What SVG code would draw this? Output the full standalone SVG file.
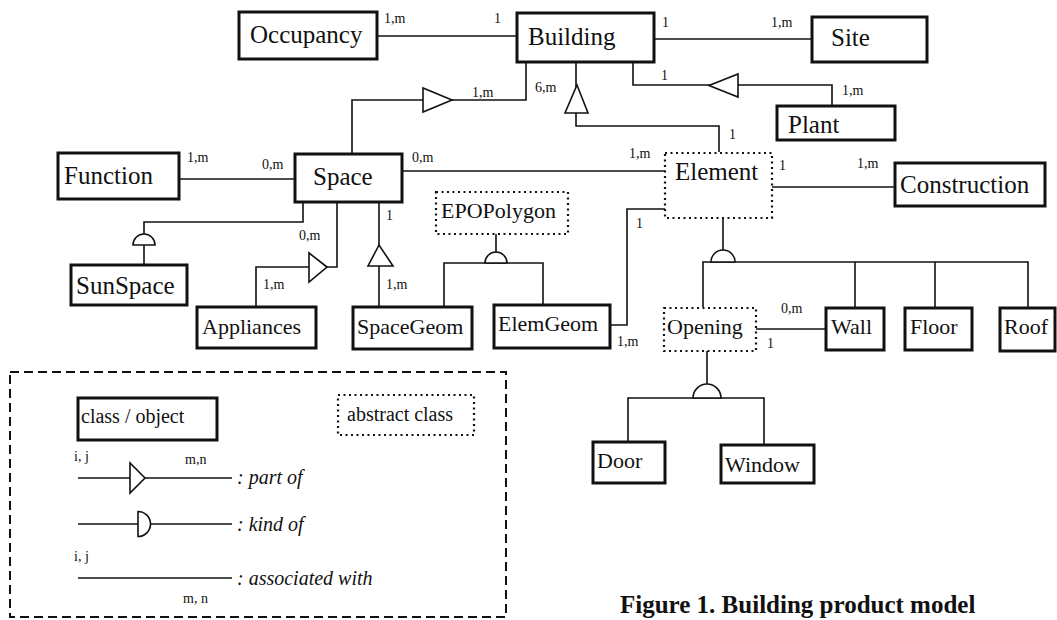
<svg xmlns="http://www.w3.org/2000/svg" width="1057" height="620" viewBox="0 0 1057 620">
<style>
.box{fill:#fff;stroke:#111;stroke-width:3}
.abs{fill:#fff;stroke:#111;stroke-width:2.2;stroke-dasharray:2 3.5}
.ln{fill:none;stroke:#111;stroke-width:1.6}
.sym{fill:#fff;stroke:#111;stroke-width:1.6}
.t{font-family:'Liberation Serif','Times New Roman',serif;font-size:25px;fill:#111}
.s{font-family:'Liberation Serif','Times New Roman',serif;font-size:22px;fill:#111}
.m{font-family:'Liberation Serif','Times New Roman',serif;font-size:14px;fill:#111}
.lg{font-family:'Liberation Serif','Times New Roman',serif;font-size:20px;fill:#111}
.it{font-family:'Liberation Serif','Times New Roman',serif;font-size:20px;font-style:italic;fill:#111}
.cap{font-family:'Liberation Serif','Times New Roman',serif;font-size:25px;font-weight:bold;fill:#111}
</style>
<rect width="1057" height="620" fill="#fff"/>
<g id="connectors">
<!-- Occupancy - Building -->
<line class="ln" x1="377" y1="36" x2="517" y2="36"/>
<!-- Building - Site -->
<line class="ln" x1="654" y1="39" x2="812" y2="39"/>
<!-- Building - Plant -->
<polyline class="ln" points="633,62 633,85 832,85 832,106"/>
<polygon class="sym" points="709,85.5 738,74 738,97"/>
<!-- Building - Space -->
<polyline class="ln" points="526,62 526,100 352,100 352,154"/>
<polygon class="sym" points="452,100 423,88 423,112"/>
<!-- Building - Element -->
<polyline class="ln" points="576,62 576,126 719,126 719,152"/>
<polygon class="sym" points="577,85 565,113 588,113"/>
<!-- Function - Space -->
<line class="ln" x1="179" y1="179" x2="295" y2="179"/>
<!-- Space - Element -->
<line class="ln" x1="402" y1="171" x2="665" y2="171"/>
<!-- Space - SunSpace -->
<polyline class="ln" points="303,202 303,222 144,222 144,234"/>
<line class="ln" x1="144" y1="245" x2="144" y2="265"/>
<path class="sym" d="M133,245 A11,11 0 0 1 155,245 Z"/>
<!-- Space - Appliances -->
<polyline class="ln" points="337,202 337,267 327,267"/>
<polyline class="ln" points="309,267 256,267 256,307"/>
<polygon class="sym" points="327,267 309,253 309,282"/>
<!-- Space - SpaceGeom -->
<line class="ln" x1="379" y1="202" x2="379" y2="307"/>
<polygon class="sym" points="379,245 368,266 393,266"/>
<!-- EPOPolygon - SpaceGeom / ElemGeom -->
<line class="ln" x1="496" y1="234" x2="496" y2="252"/>
<polyline class="ln" points="444,307 444,263 543,263 543,305"/>
<path class="sym" d="M485,263 A11,11 0 0 1 507,263 Z"/>
<!-- ElemGeom - Element -->
<polyline class="ln" points="610,325 627,325 627,209 665,209"/>
<!-- Element - Construction -->
<line class="ln" x1="772" y1="187" x2="895" y2="187"/>
<!-- Element - Opening/Wall/Floor/Roof -->
<line class="ln" x1="723" y1="218" x2="723" y2="250"/>
<polyline class="ln" points="703,307 703,262 1028,262 1028,307"/>
<line class="ln" x1="855" y1="262" x2="855" y2="307"/>
<line class="ln" x1="935" y1="262" x2="935" y2="307"/>
<path class="sym" d="M711,262 A12,12 0 0 1 735,262 Z"/>
<!-- Opening - Wall -->
<line class="ln" x1="756" y1="329" x2="826" y2="329"/>
<!-- Opening - Door/Window -->
<line class="ln" x1="707" y1="351" x2="707" y2="384"/>
<polyline class="ln" points="628,442 628,398 764,398 764,445"/>
<path class="sym" d="M693,398 A14,14 0 0 1 721,398 Z"/>
</g>
<g id="labels">
<text class="m" x="384" y="23">1,m</text>
<text class="m" x="494" y="23">1</text>
<text class="m" x="662" y="27">1</text>
<text class="m" x="771" y="27">1,m</text>
<text class="m" x="661" y="80">1</text>
<text class="m" x="842" y="95">1,m</text>
<text class="m" x="535" y="92">6,m</text>
<text class="m" x="472" y="97">1,m</text>
<text class="m" x="729" y="139">1</text>
<text class="m" x="187" y="162">1,m</text>
<text class="m" x="262" y="169">0,m</text>
<text class="m" x="412" y="162">0,m</text>
<text class="m" x="629" y="158">1,m</text>
<text class="m" x="779" y="170">1</text>
<text class="m" x="857" y="168">1,m</text>
<text class="m" x="299" y="240">0,m</text>
<text class="m" x="263" y="289">1,m</text>
<text class="m" x="386" y="220">1</text>
<text class="m" x="386" y="289">1,m</text>
<text class="m" x="636" y="228">1</text>
<text class="m" x="617" y="346">1,m</text>
<text class="m" x="781" y="313">0,m</text>
<text class="m" x="767" y="348">1</text>
</g>
<g id="Occupancy"><rect class="box" x="239" y="12" width="138" height="47"/><text class="t" x="250" y="43">Occupancy</text></g>
<g id="Building"><rect class="box" x="517" y="13" width="137" height="49"/><text class="t" x="528" y="45">Building</text></g>
<g id="Site"><rect class="box" x="812" y="17" width="115" height="45"/><text class="t" x="831" y="46">Site</text></g>
<g id="Plant"><rect class="box" x="777" y="106" width="118" height="34"/><text class="t" x="788" y="133">Plant</text></g>
<g id="Function"><rect class="box" x="58" y="153" width="121" height="46"/><text class="t" x="64" y="184">Function</text></g>
<g id="Space"><rect class="box" x="295" y="154" width="107" height="48"/><text class="t" x="313" y="185">Space</text></g>
<g id="Element"><rect class="abs" x="665" y="153" width="107" height="65"/><text class="t" x="675" y="180">Element</text></g>
<g id="Construction"><rect class="box" x="895" y="163" width="150" height="43"/><text class="t" x="900" y="193">Construction</text></g>
<g id="EPOPolygon"><rect class="abs" x="436" y="192" width="132" height="42"/><text class="s" x="441" y="218">EPOPolygon</text></g>
<g id="SunSpace"><rect class="box" x="71" y="265" width="116" height="40"/><text class="t" x="76" y="294">SunSpace</text></g>
<g id="Appliances"><rect class="box" x="197" y="307" width="119" height="41"/><text class="s" x="202" y="334">Appliances</text></g>
<g id="SpaceGeom"><rect class="box" x="353" y="307" width="119" height="42"/><text class="s" x="357" y="334">SpaceGeom</text></g>
<g id="ElemGeom"><rect class="box" x="494" y="305" width="116" height="43"/><text class="s" x="498" y="331">ElemGeom</text></g>
<g id="Opening"><rect class="abs" x="664" y="308" width="92" height="43"/><text class="s" x="667" y="334">Opening</text></g>
<g id="Wall"><rect class="box" x="826" y="308" width="58" height="42"/><text class="s" x="831" y="334">Wall</text></g>
<g id="Floor"><rect class="box" x="905" y="308" width="67" height="42"/><text class="s" x="910" y="334">Floor</text></g>
<g id="Roof"><rect class="box" x="1000" y="308" width="55" height="43"/><text class="s" x="1004" y="334">Roof</text></g>
<g id="Door"><rect class="box" x="593" y="442" width="72" height="41"/><text class="s" x="597" y="468">Door</text></g>
<g id="Window"><rect class="box" x="721" y="445" width="93" height="38"/><text class="s" x="725" y="472">Window</text></g>
<g id="legend">
<rect x="10" y="372" width="496" height="245" fill="none" stroke="#111" stroke-width="2" stroke-dasharray="9 5"/>
<rect class="box" x="78" y="398" width="139" height="42"/>
<text class="lg" x="81" y="423">class / object</text>
<rect class="abs" x="338" y="395" width="136" height="40"/>
<text class="lg" x="347" y="421">abstract class</text>
<line class="ln" x1="78" y1="478" x2="232" y2="478"/>
<polygon class="sym" points="145,478 130,463 130,493"/>
<text class="m" x="74" y="461">i, j</text>
<text class="m" x="185" y="464">m,n</text>
<text class="it" x="237" y="484">: part of</text>
<line class="ln" x1="78" y1="524" x2="232" y2="524"/>
<path class="sym" d="M138,511.5 A12.5,12.5 0 0 1 138,536.5 Z"/>
<text class="it" x="237" y="531">: kind of</text>
<line class="ln" x1="78" y1="578" x2="232" y2="578"/>
<text class="m" x="74" y="561">i, j</text>
<text class="m" x="183" y="603">m, n</text>
<text class="it" x="237" y="585">: associated with</text>
</g>
<text class="cap" x="620" y="613">Figure 1. Building product model</text>
</svg>
